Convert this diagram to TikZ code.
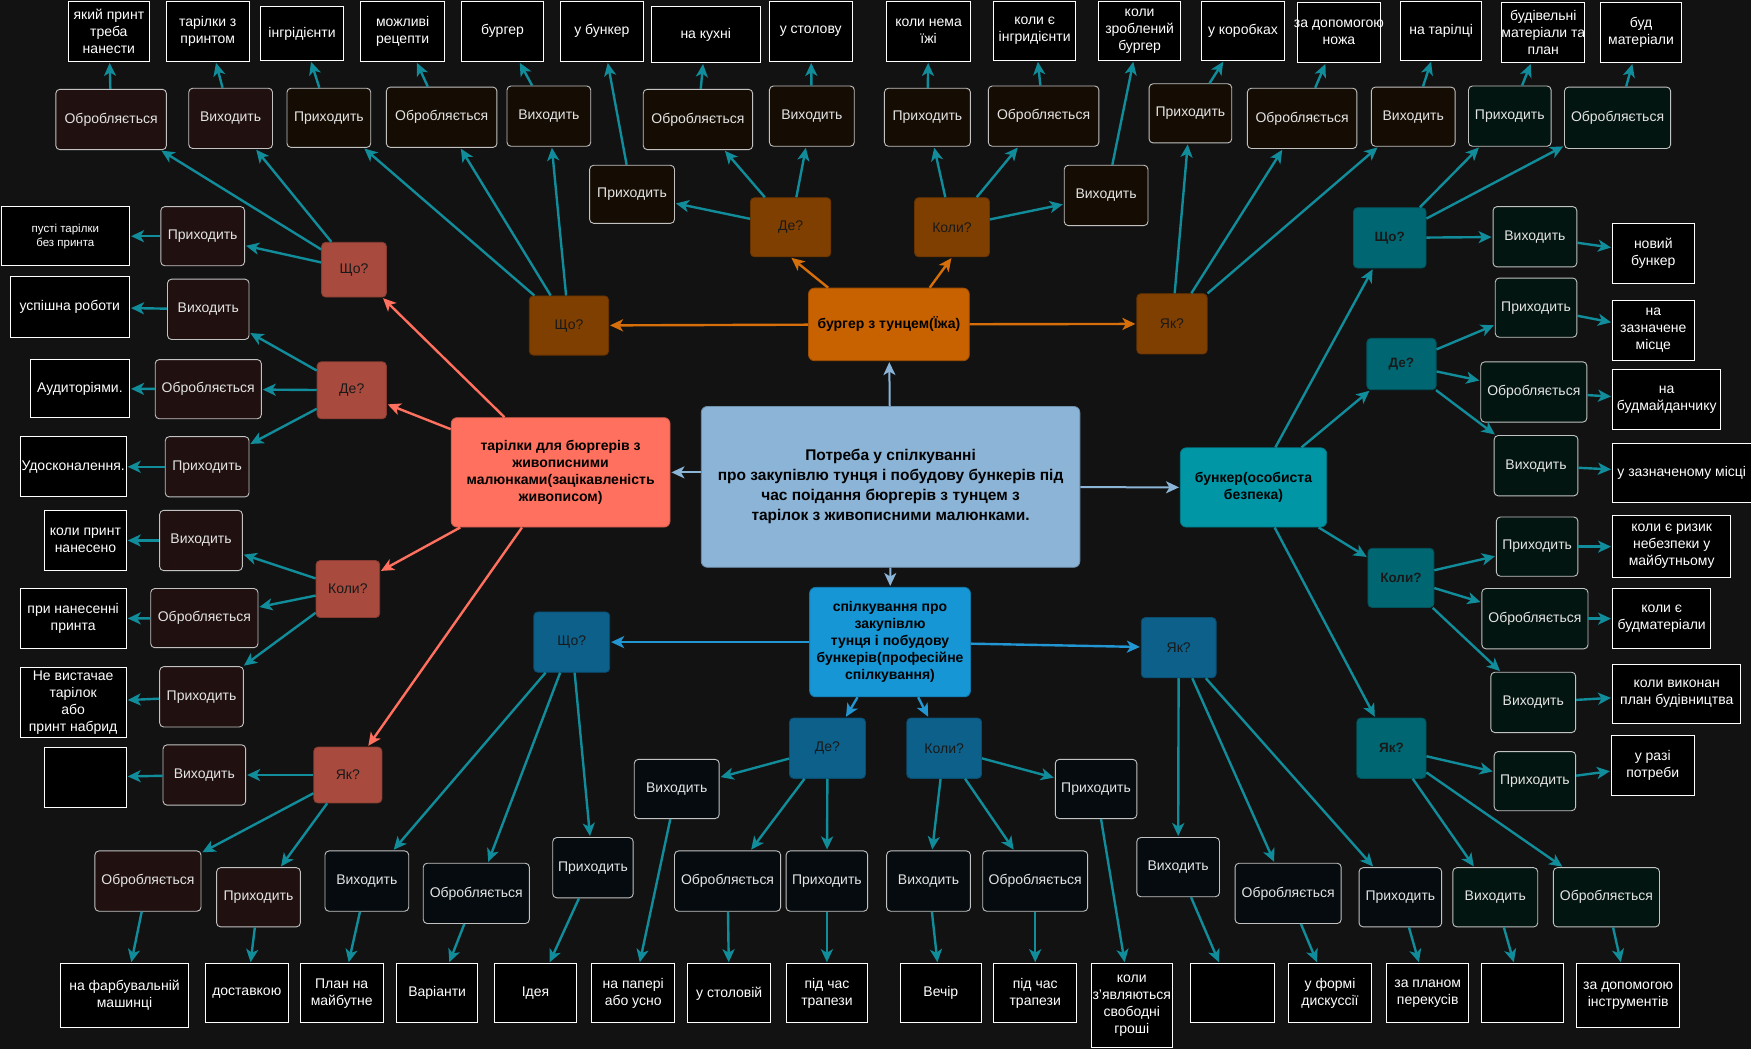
\documentclass[tikz,border=0pt]{standalone}
\usepackage{fontspec}
\setmainfont{Liberation Sans}
\usetikzlibrary{arrows.meta}

\definecolor{bg}{RGB}{18,18,18}
\definecolor{ctr}{RGB}{139,180,214}
\definecolor{brg}{RGB}{200,98,0}
\definecolor{brgq}{RGB}{127,63,0}
\definecolor{plt}{RGB}{255,112,94}
\definecolor{pltq}{RGB}{168,75,62}
\definecolor{bnk}{RGB}{0,150,166}
\definecolor{bnkq}{RGB}{0,103,114}
\definecolor{com}{RGB}{22,150,212}
\definecolor{comq}{RGB}{12,96,138}
\definecolor{lnk}{RGB}{16,140,154}
\definecolor{brglnk}{RGB}{214,110,10}
\definecolor{comlnk}{RGB}{34,150,210}
\definecolor{actR}{RGB}{32,16,16}
\definecolor{actO}{RGB}{21,13,3}
\definecolor{actT}{RGB}{3,21,16}
\definecolor{actC}{RGB}{5,11,14}
\definecolor{txt}{RGB}{228,228,228}

% node placed by its corners (left, top, right, bottom)
\newcommand\placebox[7]{%
  \node[#1, minimum width={(#5-#3)*1.1168pt}, minimum height={(#6-#4)*1.1168pt}]
    (#2) at ({(#3+#5)/2},{(#4+#6)/2}) {#7};}

\begin{document}
\begin{tikzpicture}[x=1.1168pt,y=-1.1168pt,
  act/.style={draw=txt!85!black, line width=0.9pt, rounded corners=4pt, text=txt,
    font=\fontsize{14}{17}\selectfont, align=center, inner xsep=-12pt, inner ysep=0pt},
  ans/.style={draw=white, line width=1pt, fill=black, text=white,
    font=\fontsize{14}{17}\selectfont, align=center, inner xsep=-12pt, inner ysep=0pt},
  qn/.style={rounded corners=4pt, line width=0.8pt, text=black!90,
    font=\fontsize{14}{17}\selectfont, inner sep=0pt},
  mn/.style={rounded corners=6pt, line width=0.8pt, text=black, align=center,
    font=\bfseries\fontsize{14}{17}\selectfont, inner xsep=-6pt, inner ysep=0pt},
  lk/.style={draw=lnk, line width=2.4pt, shorten >=1pt,
    -{Stealth[length=13pt,width=12pt,inset=3.5pt]}},
  lkC/.style={lk, draw=ctr, line width=2pt},
  lkB/.style={lk, draw=brglnk},
  lkP/.style={lk, draw=plt},
  lkK/.style={lk, draw=comlnk},
]
\fill[bg] (0,0) rectangle (1568,939);
\useasboundingbox (0,0) rectangle (1568,939);

% ---------- main topics ----------
\placebox{mn,fill=ctr,draw=ctr!80!black,font=\bfseries\fontsize{15.5}{20}\selectfont}{c}{628}{364}{967}{508}
  {Потреба у спілкуванні\\про закупівлю тунця і побудову бункерів під\\час поідання бюргерів з тунцем з\\тарілок з живописними малюнками.}
\placebox{mn,fill=brg,draw=brg!80!black}{b}{724}{258}{868}{323}{бургер з тунцем(Їжа)}
\placebox{mn,fill=plt,draw=plt!80!black}{p}{404}{374}{600}{472}
  {тарілки для бюргерів з\\живописними\\малюнками(зацікавленість\\живописом)}
\placebox{mn,fill=com,draw=com!80!black}{k}{725}{526}{869}{624}
  {спілкування про\\закупівлю\\тунця і побудову\\бункерів(професійне\\спілкування)}
\placebox{mn,fill=bnk,draw=bnk!80!black}{u}{1057}{401}{1188}{472}{бункер(особиста\\безпека)}

% ---------- questions ----------
\placebox{qn,fill=brgq,draw=brgq!80!black}{bW}{474}{265}{545}{318}{Що?}
\placebox{qn,fill=brgq,draw=brgq!80!black}{bD}{672}{177}{744}{230}{Де?}
\placebox{qn,fill=brgq,draw=brgq!80!black}{bK}{819}{177}{886}{230}{Коли?}
\placebox{qn,fill=brgq,draw=brgq!80!black}{bH}{1018}{263}{1081}{317}{Як?}

\placebox{qn,fill=pltq,draw=pltq!80!black}{pW}{288}{217}{346}{266}{Що?}
\placebox{qn,fill=pltq,draw=pltq!80!black}{pD}{284}{324}{346}{375}{Де?}
\placebox{qn,fill=pltq,draw=pltq!80!black}{pK}{283}{502}{340}{553}{Коли?}
\placebox{qn,fill=pltq,draw=pltq!80!black}{pH}{281}{669}{342}{719}{Як?}

\placebox{qn,fill=bnkq,draw=bnkq!80!black,font=\bfseries\fontsize{13.5}{17}\selectfont}{uW}{1212}{186}{1277}{240}{Що?}
\placebox{qn,fill=bnkq,draw=bnkq!80!black,font=\bfseries\fontsize{13.5}{17}\selectfont}{uD}{1224}{303}{1286}{349}{Де?}
\placebox{qn,fill=bnkq,draw=bnkq!80!black,font=\bfseries\fontsize{13.5}{17}\selectfont}{uK}{1225}{491}{1284}{544}{Коли?}
\placebox{qn,fill=bnkq,draw=bnkq!80!black,font=\bfseries\fontsize{13.5}{17}\selectfont}{uH}{1215}{643}{1277}{697}{Як?}

\placebox{qn,fill=comq,draw=comq!80!black}{kW}{478}{548}{546}{602}{Що?}
\placebox{qn,fill=comq,draw=comq!80!black}{kD}{707}{643}{775}{697}{Де?}
\placebox{qn,fill=comq,draw=comq!80!black}{kK}{812}{643}{879}{697}{Коли?}
\placebox{qn,fill=comq,draw=comq!80!black}{kH}{1022}{553}{1089}{607}{Як?}

% ---------- food branch ----------
\placebox{act,fill=actO}{bW1}{257}{79}{332}{132}{Приходить}
\placebox{act,fill=actO}{bW2}{346}{78}{445}{132}{Обробляється}
\placebox{act,fill=actO}{bW3}{454}{77}{529}{131}{Виходить}
\placebox{act,fill=actO}{bD1}{528}{148}{604}{200}{Приходить}
\placebox{act,fill=actO}{bD2}{576}{80}{674}{134}{Обробляється}
\placebox{act,fill=actO}{bD3}{689}{77}{765}{131}{Виходить}
\placebox{act,fill=actO}{bK1}{792}{79}{869}{131}{Приходить}
\placebox{act,fill=actO}{bK2}{885}{77}{984}{131}{Обробляється}
\placebox{act,fill=actO}{bK3}{953}{148}{1028}{202}{Виходить}
\placebox{act,fill=actO}{bH1}{1029}{75}{1103}{128}{Приходить}
\placebox{act,fill=actO}{bH2}{1117}{79}{1215}{133}{Обробляється}
\placebox{act,fill=actO}{bH3}{1228}{78}{1303}{131}{Виходить}

\placebox{ans}{bW1a}{233}{6}{308}{54}{інгрідієнти}
\placebox{ans}{bW2a}{323}{1}{398}{55}{можливі\\рецепти}
\placebox{ans}{bW3a}{413}{1}{487}{55}{бургер}
\placebox{ans}{bD1a}{502}{1}{576}{55}{у бункер}
\placebox{ans}{bD2a}{583}{6}{681}{56}{на кухні}
\placebox{ans}{bD3a}{689}{1}{763}{55}{у столову}
\placebox{ans}{bK1a}{794}{1}{869}{55}{коли нема\\їжі}
\placebox{ans}{bK2a}{890}{1}{963}{54}{коли є\\інгридієнти}
\placebox{ans}{bK3a}{984}{1}{1057}{54}{коли\\зроблений\\бургер}
\placebox{ans}{bH1a}{1076}{1}{1150}{54}{у коробках}
\placebox{ans}{bH2a}{1162}{2}{1236}{56}{за допомогою\\ножа}
\placebox{ans}{bH3a}{1254}{1}{1327}{54}{на тарілці}

% ---------- plates branch ----------
\placebox{act,fill=actR}{pW1}{50}{80}{149}{134}{Обробляється}
\placebox{act,fill=actR}{pW2}{169}{79}{244}{133}{Виходить}
\placebox{act,fill=actR}{pW3}{144}{185}{219}{238}{Приходить}
\placebox{act,fill=actR}{pD1}{150}{250}{223}{304}{Виходить}
\placebox{act,fill=actR}{pD2}{139}{322}{234}{375}{Обробляється}
\placebox{act,fill=actR}{pD3}{148}{391}{223}{445}{Приходить}
\placebox{act,fill=actR}{pK1}{143}{457}{217}{511}{Виходить}
\placebox{act,fill=actR}{pK2}{135}{527}{231}{580}{Обробляється}
\placebox{act,fill=actR}{pK3}{143}{597}{218}{651}{Приходить}
\placebox{act,fill=actR}{pH1}{146}{667}{220}{721}{Виходить}
\placebox{act,fill=actR}{pH2}{85}{762}{180}{816}{Обробляється}
\placebox{act,fill=actR}{pH3}{194}{777}{269}{830}{Приходить}

\placebox{ans}{pW1a}{61}{1}{134}{55}{який принт\\треба\\нанести}
\placebox{ans}{pW2a}{149}{1}{223}{55}{тарілки з\\принтом}
\placebox{ans,font=\fontsize{11.5}{14}\selectfont}{pW3a}{1}{185}{116}{238}{пусті тарілки\\без принта}
\placebox{ans}{pD1a}{9}{248}{116}{302}{успішна роботи}
\placebox{ans}{pD2a}{27}{322}{116}{374}{Аудиторіями.}
\placebox{ans}{pD3a}{18}{391}{113}{445}{Удосконалення.}
\placebox{ans}{pK1a}{40}{457}{113}{511}{коли принт\\нанесено}
\placebox{ans}{pK2a}{18}{527}{113}{581}{при нанесенні\\принта}
\placebox{ans}{pK3a}{18}{598}{113}{660}{Не вистачае\\тарілок\\або\\принт набрид}
\placebox{ans}{pH1a}{40}{669}{113}{723}{}
\placebox{ans}{pH2a}{54}{863}{169}{920}{на фарбувальній\\машинці}
\placebox{ans}{pH3a}{184}{863}{258}{916}{доставкою}

% ---------- bunker branch ----------
\placebox{act,fill=actT}{uW1}{1315}{77}{1389}{131}{Приходить}
\placebox{act,fill=actT}{uW2}{1401}{78}{1496}{133}{Обробляється}
\placebox{act,fill=actT}{uW3}{1337}{185}{1412}{239}{Виходить}
\placebox{act,fill=actT}{uD1}{1339}{249}{1412}{302}{Приходить}
\placebox{act,fill=actT}{uD2}{1326}{324}{1421}{378}{Обробляється}
\placebox{act,fill=actT}{uD3}{1338}{390}{1413}{444}{Виходить}
\placebox{act,fill=actT}{uK1}{1340}{463}{1413}{516}{Приходить}
\placebox{act,fill=actT}{uK2}{1327}{527}{1422}{581}{Обробляється}
\placebox{act,fill=actT}{uK3}{1335}{602}{1411}{656}{Виходить}
\placebox{act,fill=actT}{uH1}{1338}{673}{1411}{726}{Приходить}
\placebox{act,fill=actT}{uH2}{1301}{777}{1377}{830}{Виходить}
\placebox{act,fill=actT}{uH3}{1391}{777}{1486}{830}{Обробляється}

\placebox{ans}{uW1a}{1345}{2}{1419}{56}{будівельні\\матеріали та\\план}
\placebox{ans}{uW2a}{1433}{2}{1506}{56}{буд\\матеріали}
\placebox{ans}{uW3a}{1444}{200}{1517}{254}{новий\\бункер}
\placebox{ans}{uD1a}{1444}{269}{1517}{323}{на\\зазначене\\місце}
\placebox{ans}{uD2a}{1444}{331}{1541}{385}{на\\будмайданчику}
\placebox{ans}{uD3a}{1444}{397}{1568}{450}{у зазначеному місці}
\placebox{ans}{uK1a}{1444}{462}{1550}{517}{коли є ризик\\небезпеки у\\майбутньому}
\placebox{ans}{uK2a}{1444}{527}{1532}{581}{коли є\\будматеріали}
\placebox{ans}{uK3a}{1444}{595}{1559}{648}{коли виконан\\план будівництва}
\placebox{ans}{uH1a}{1443}{659}{1517}{712}{у разі\\потреби}
\placebox{ans}{uH2a}{1327}{863}{1400}{916}{}
\placebox{ans}{uH3a}{1412}{863}{1504}{920}{за допомогою\\інструментів}

% ---------- communication branch ----------
\placebox{act,fill=actC}{kW1}{291}{762}{366}{816}{Виходить}
\placebox{act,fill=actC}{kW2}{379}{773}{474}{827}{Обробляється}
\placebox{act,fill=actC}{kW3}{495}{750}{567}{804}{Приходить}
\placebox{act,fill=actC}{kD1}{568}{680}{644}{733}{Виходить}
\placebox{act,fill=actC}{kD2}{604}{762}{699}{816}{Обробляється}
\placebox{act,fill=actC}{kD3}{704}{762}{777}{816}{Приходить}
\placebox{act,fill=actC}{kK1}{794}{762}{869}{816}{Виходить}
\placebox{act,fill=actC}{kK2}{880}{762}{974}{816}{Обробляється}
\placebox{act,fill=actC}{kK3}{945}{680}{1018}{733}{Приходить}
\placebox{act,fill=actC}{kH1}{1018}{750}{1092}{803}{Виходить}
\placebox{act,fill=actC}{kH2}{1106}{773}{1201}{827}{Обробляється}
\placebox{act,fill=actC}{kH3}{1217}{777}{1291}{830}{Приходить}

\placebox{ans}{kW1a}{269}{863}{343}{916}{План на\\майбутне}
\placebox{ans}{kW2a}{355}{863}{428}{916}{Варіанти}
\placebox{ans}{kW3a}{443}{863}{516}{916}{Ідея}
\placebox{ans}{kD1a}{530}{863}{604}{916}{на папері\\або усно}
\placebox{ans}{kD2a}{616}{863}{690}{916}{у столовій}
\placebox{ans}{kD3a}{704}{863}{777}{916}{під час\\трапези}
\placebox{ans}{kK1a}{806}{863}{879}{916}{Вечір}
\placebox{ans}{kK2a}{890}{863}{964}{916}{під час\\трапези}
\placebox{ans}{kK3a}{977}{863}{1050}{938}{коли\\з'являються\\свободні\\гроші}
\placebox{ans}{kH1a}{1066}{863}{1141}{916}{}
\placebox{ans}{kH2a}{1154}{863}{1228}{916}{у формі\\дискуссії}
\placebox{ans}{kH3a}{1242}{863}{1315}{916}{за планом\\перекусів}

% ---------- connectors ----------
\draw[lkC] (c) -- (b);
\draw[lkC] (c.west |- p) -- (p);
\draw[lkC] (c) -- (u);
\draw[lkC] (c) -- (k);
\draw[lkB] (b) -- (bW);
\draw[lkB] ([xshift=20pt]b.north west) -- (bD.south);
\draw[lkB] ([xshift=-40pt]b.north east) -- (bK.south);
\draw[lkB] (b) -- (bH);
\foreach \q in {pW,pD,pK,pH} \draw[lkP] (p) -- (\q);
\foreach \q in {uW,uD,uK,uH} \draw[lk] (u) -- (\q);
\foreach \q in {kW,kD,kK,kH} \draw[lkK] (k) -- (\q);
\foreach \g in {pW,pD,pK,pH,bW,bD,bK,bH,uW,uD,uK,uH,kW,kD,kK,kH}
  \foreach \i in {1,2,3} {
    \draw[lk] (\g) -- (\g\i);
    \draw[lk] (\g\i) -- (\g\i a);
  }
\end{tikzpicture}
\end{document}
